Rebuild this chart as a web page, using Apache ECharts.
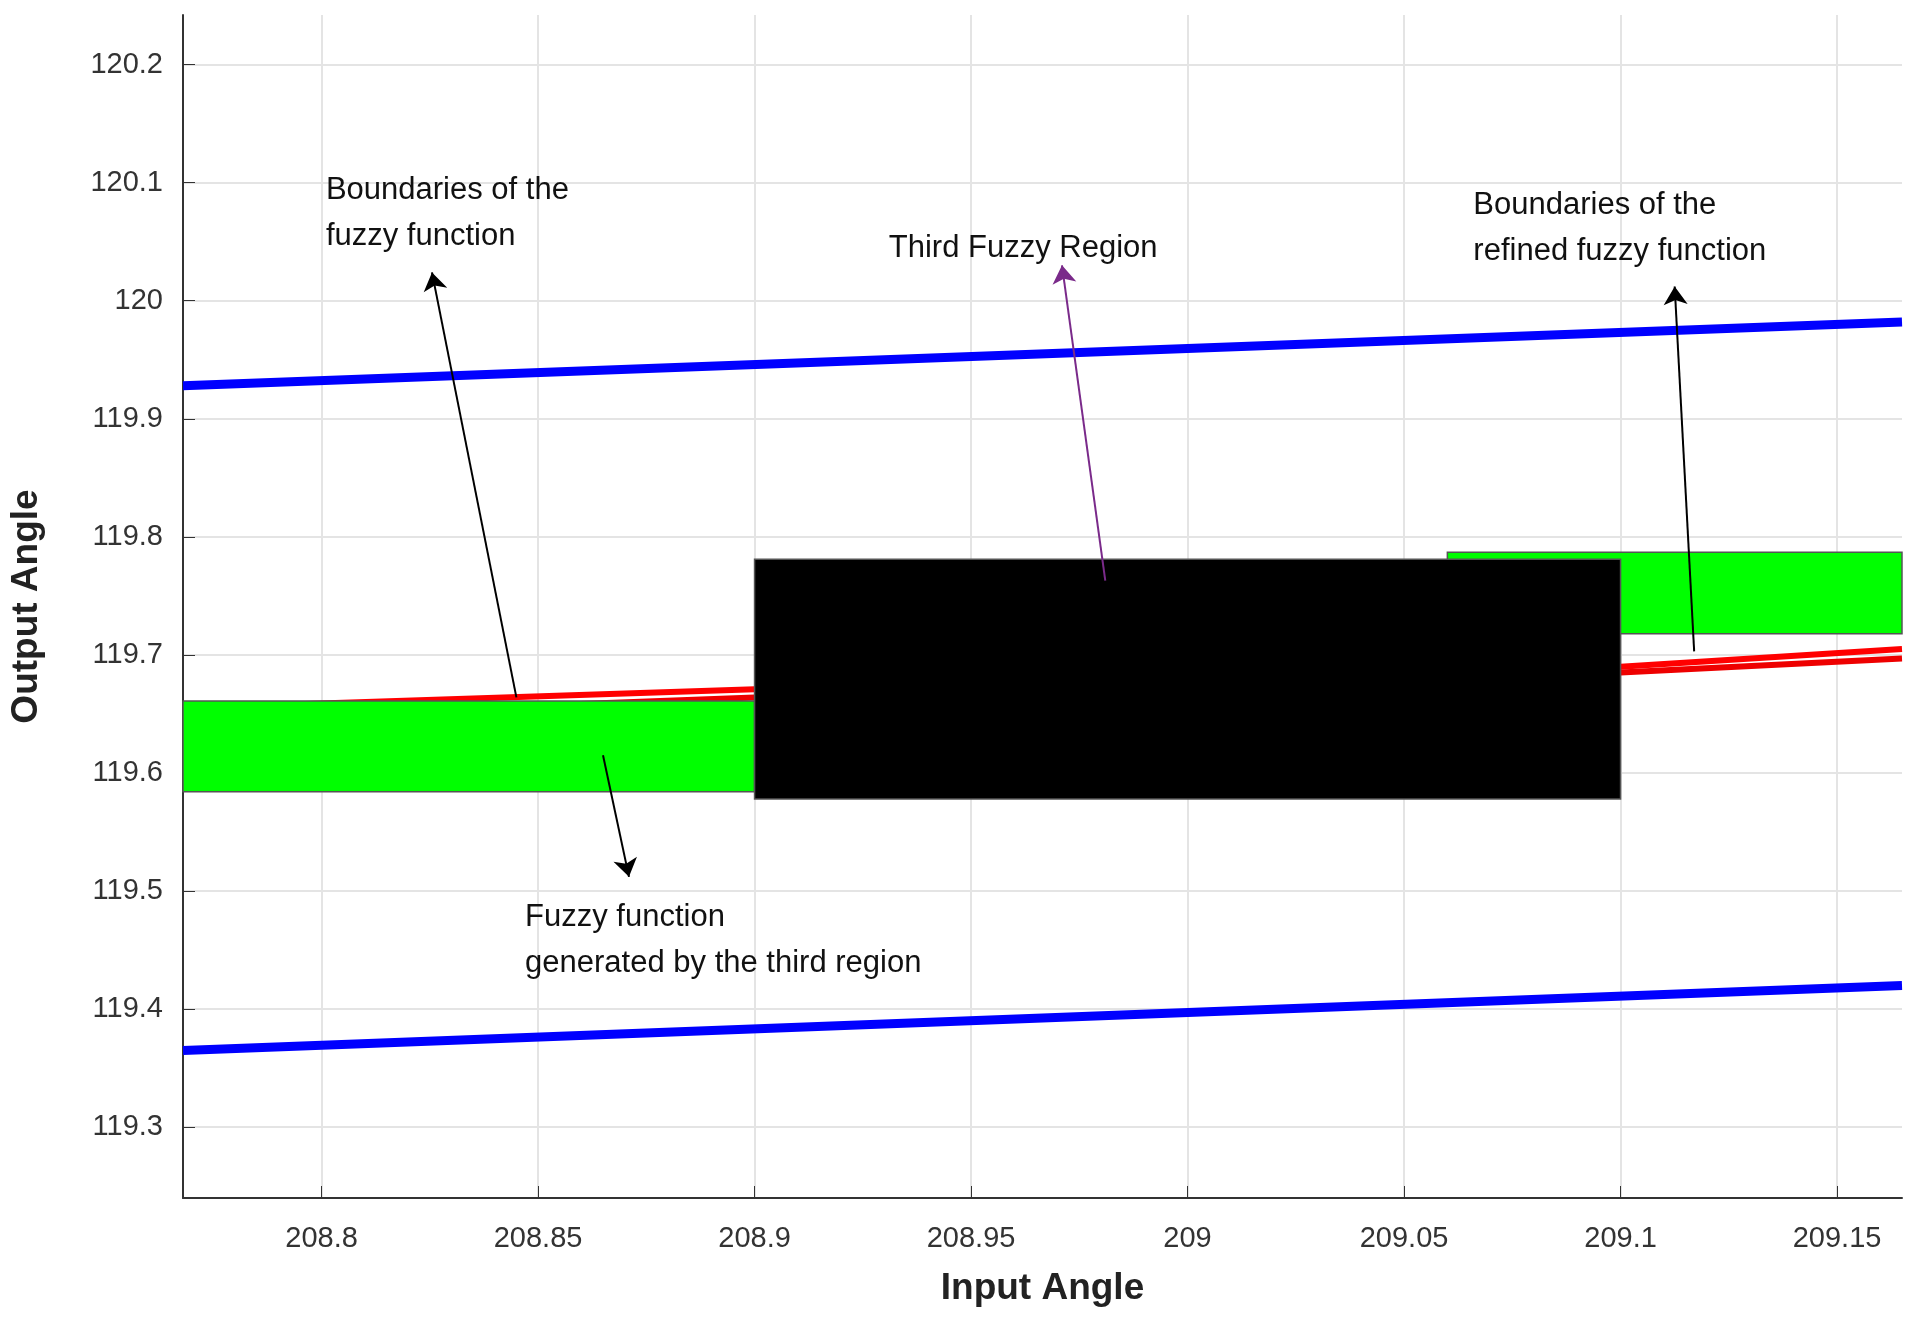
<!DOCTYPE html>
<html><head><meta charset="utf-8">
<script src="https://cdn.jsdelivr.net/npm/echarts@6/dist/echarts.min.js"></script>
<style>html,body{margin:0;background:#fff}#main{width:1915px;height:1334px}</style>
</head><body><div id="main"></div>
<script>
// axis ranges and ticks
var xRange = [208.768, 209.165]
var yRange = [119.24, 120.242]
var xTicks = [208.8, 208.85, 208.9, 208.95, 209, 209.05, 209.1, 209.15]
var yTicks = [119.3, 119.4, 119.5, 119.6, 119.7, 119.8, 119.9, 120, 120.1, 120.2]

// boundary lines [x, y]
var blueUpper = [[208.768, 119.928], [209.165, 119.982]]
var blueLower = [[208.768, 119.365], [209.165, 119.42]]
var redA = [[208.768, 119.655], [208.9, 119.671], [209.1, 119.690], [209.165, 119.705]]
var redB = [[208.768, 119.646], [208.9, 119.664], [209.1, 119.685], [209.165, 119.697]]

// regions [x1, y1, x2, y2, colour]
var boxes = [
    [208.768, 119.584, 208.9, 119.661, '#00ff00'],
    [209.06, 119.718, 209.165, 119.787, '#00ff00'],
    [208.9, 119.578, 209.1, 119.781, '#000000']
]
var greenLeftLines = [119.625, 119.616]
var greenRightLines = [119.757, 119.748]

// annotation arrows [tailX, tailY, headX, headY, colour]
var arrows = [
    [208.845, 119.664, 208.8255, 120.024, '#000'],
    [208.865, 119.615, 208.871, 119.512, '#000'],
    [208.981, 119.763, 208.971, 120.03, '#7a2a8a'],
    [209.117, 119.703, 209.1125, 120.012, '#000']
]
var notes = [
    [208.801, 120.113, 'Boundaries of the\nfuzzy function'],
    [208.931, 120.064, 'Third Fuzzy Region'],
    [209.066, 120.1, 'Boundaries of the\nrefined fuzzy function'],
    [208.847, 119.497, 'Fuzzy function\ngenerated by the third region']
]

var chart = echarts.init(document.getElementById('main'))

function hline(x1, x2, y) {
    return { type: 'line', data: [[x1, y], [x2, y]], symbol: 'none', lineStyle: { color: '#1b4e1b', width: 2 }, z: 3, silent: true }
}

var series = [
    { type: 'line', data: blueUpper, symbol: 'none', lineStyle: { color: '#0000ff', width: 9 }, z: 2 },
    { type: 'line', data: blueLower, symbol: 'none', lineStyle: { color: '#0000ff', width: 9 }, z: 2 },
    { type: 'line', data: redA, symbol: 'none', lineStyle: { color: '#ff0000', width: 6 }, z: 2 },
    { type: 'line', data: redB, symbol: 'none', lineStyle: { color: '#ee0000', width: 6 }, z: 2 },
    {
        type: 'custom', z: 4, silent: true,
        data: boxes,
        encode: { x: [0, 2], y: [1, 3] },
        renderItem: function (params, api) {
            var p1 = api.coord([api.value(0), api.value(3)])
            var p2 = api.coord([api.value(2), api.value(1)])
            var c = boxes[params.dataIndex][4]
            return {
                type: 'rect',
                shape: { x: p1[0], y: p1[1], width: p2[0] - p1[0], height: p2[1] - p1[1] },
                style: { fill: c, stroke: '#555', lineWidth: 1.5 },
                z2: c === '#000000' ? 10 : 1
            }
        }
    },
    hline(boxes[0][0], boxes[0][2], greenLeftLines[0]),
    hline(boxes[0][0], boxes[0][2], greenLeftLines[1]),
    hline(boxes[2][2], boxes[1][2], greenRightLines[0]),
    hline(boxes[2][2], boxes[1][2], greenRightLines[1]),
    {
        type: 'lines', coordinateSystem: 'cartesian2d', z: 10, symbol: ['none', 'arrow'], symbolSize: 18,
        data: arrows.map(function (a) {
            return { coords: [[a[0], a[1]], [a[2], a[3]]], lineStyle: { color: a[4], width: 2, opacity: 1 } }
        })
    },
    {
        type: 'scatter', symbolSize: 0, z: 10, itemStyle: { opacity: 1 },
        data: notes.map(function (n) { return { value: [n[0], n[1]], name: n[2] } }),
        label: {
            show: true, position: 'right', distance: 0, verticalAlign: 'top', align: 'left',
            formatter: function (p) { return p.name }, fontSize: 31, lineHeight: 46,
            color: '#111', fontFamily: 'Arial, Liberation Sans'
        }
    }
]

var option = {
    animation: false,
    grid: { left: 177, right: 13, top: 15, bottom: 136 },
    xAxis: {
        type: 'value', min: xRange[0], max: xRange[1],
        name: 'Input Angle', nameLocation: 'middle', nameGap: 72,
        nameTextStyle: { fontSize: 37, fontWeight: 'bold', color: '#222', fontFamily: 'Arial, Liberation Sans' },
        axisLine: { lineStyle: { color: '#333', width: 2 } },
        axisTick: { show: true, inside: true, length: 12, customValues: xTicks, lineStyle: { color: '#333' } },
        axisLabel: { fontSize: 29, color: '#333', margin: 26, customValues: xTicks, fontFamily: 'Arial, Liberation Sans' },
        splitLine: { show: true, lineStyle: { color: '#e4e4e4', width: 2 } }
    },
    yAxis: {
        type: 'value', min: yRange[0], max: yRange[1],
        name: 'Output Angle', nameLocation: 'middle', nameGap: 138,
        nameTextStyle: { fontSize: 37, fontWeight: 'bold', color: '#222', fontFamily: 'Arial, Liberation Sans' },
        axisLine: { show: true, lineStyle: { color: '#333', width: 2 } },
        axisTick: { show: true, inside: true, length: 12, customValues: yTicks, lineStyle: { color: '#333' } },
        axisLabel: { fontSize: 29, color: '#333', margin: 20, customValues: yTicks, fontFamily: 'Arial, Liberation Sans',
            formatter: function (v) { return String(+v.toFixed(1)) } },
        splitLine: { show: true, lineStyle: { color: '#e4e4e4', width: 2 } }
    },
    series: series
}
chart.setOption(option)
</script>
</body></html>
